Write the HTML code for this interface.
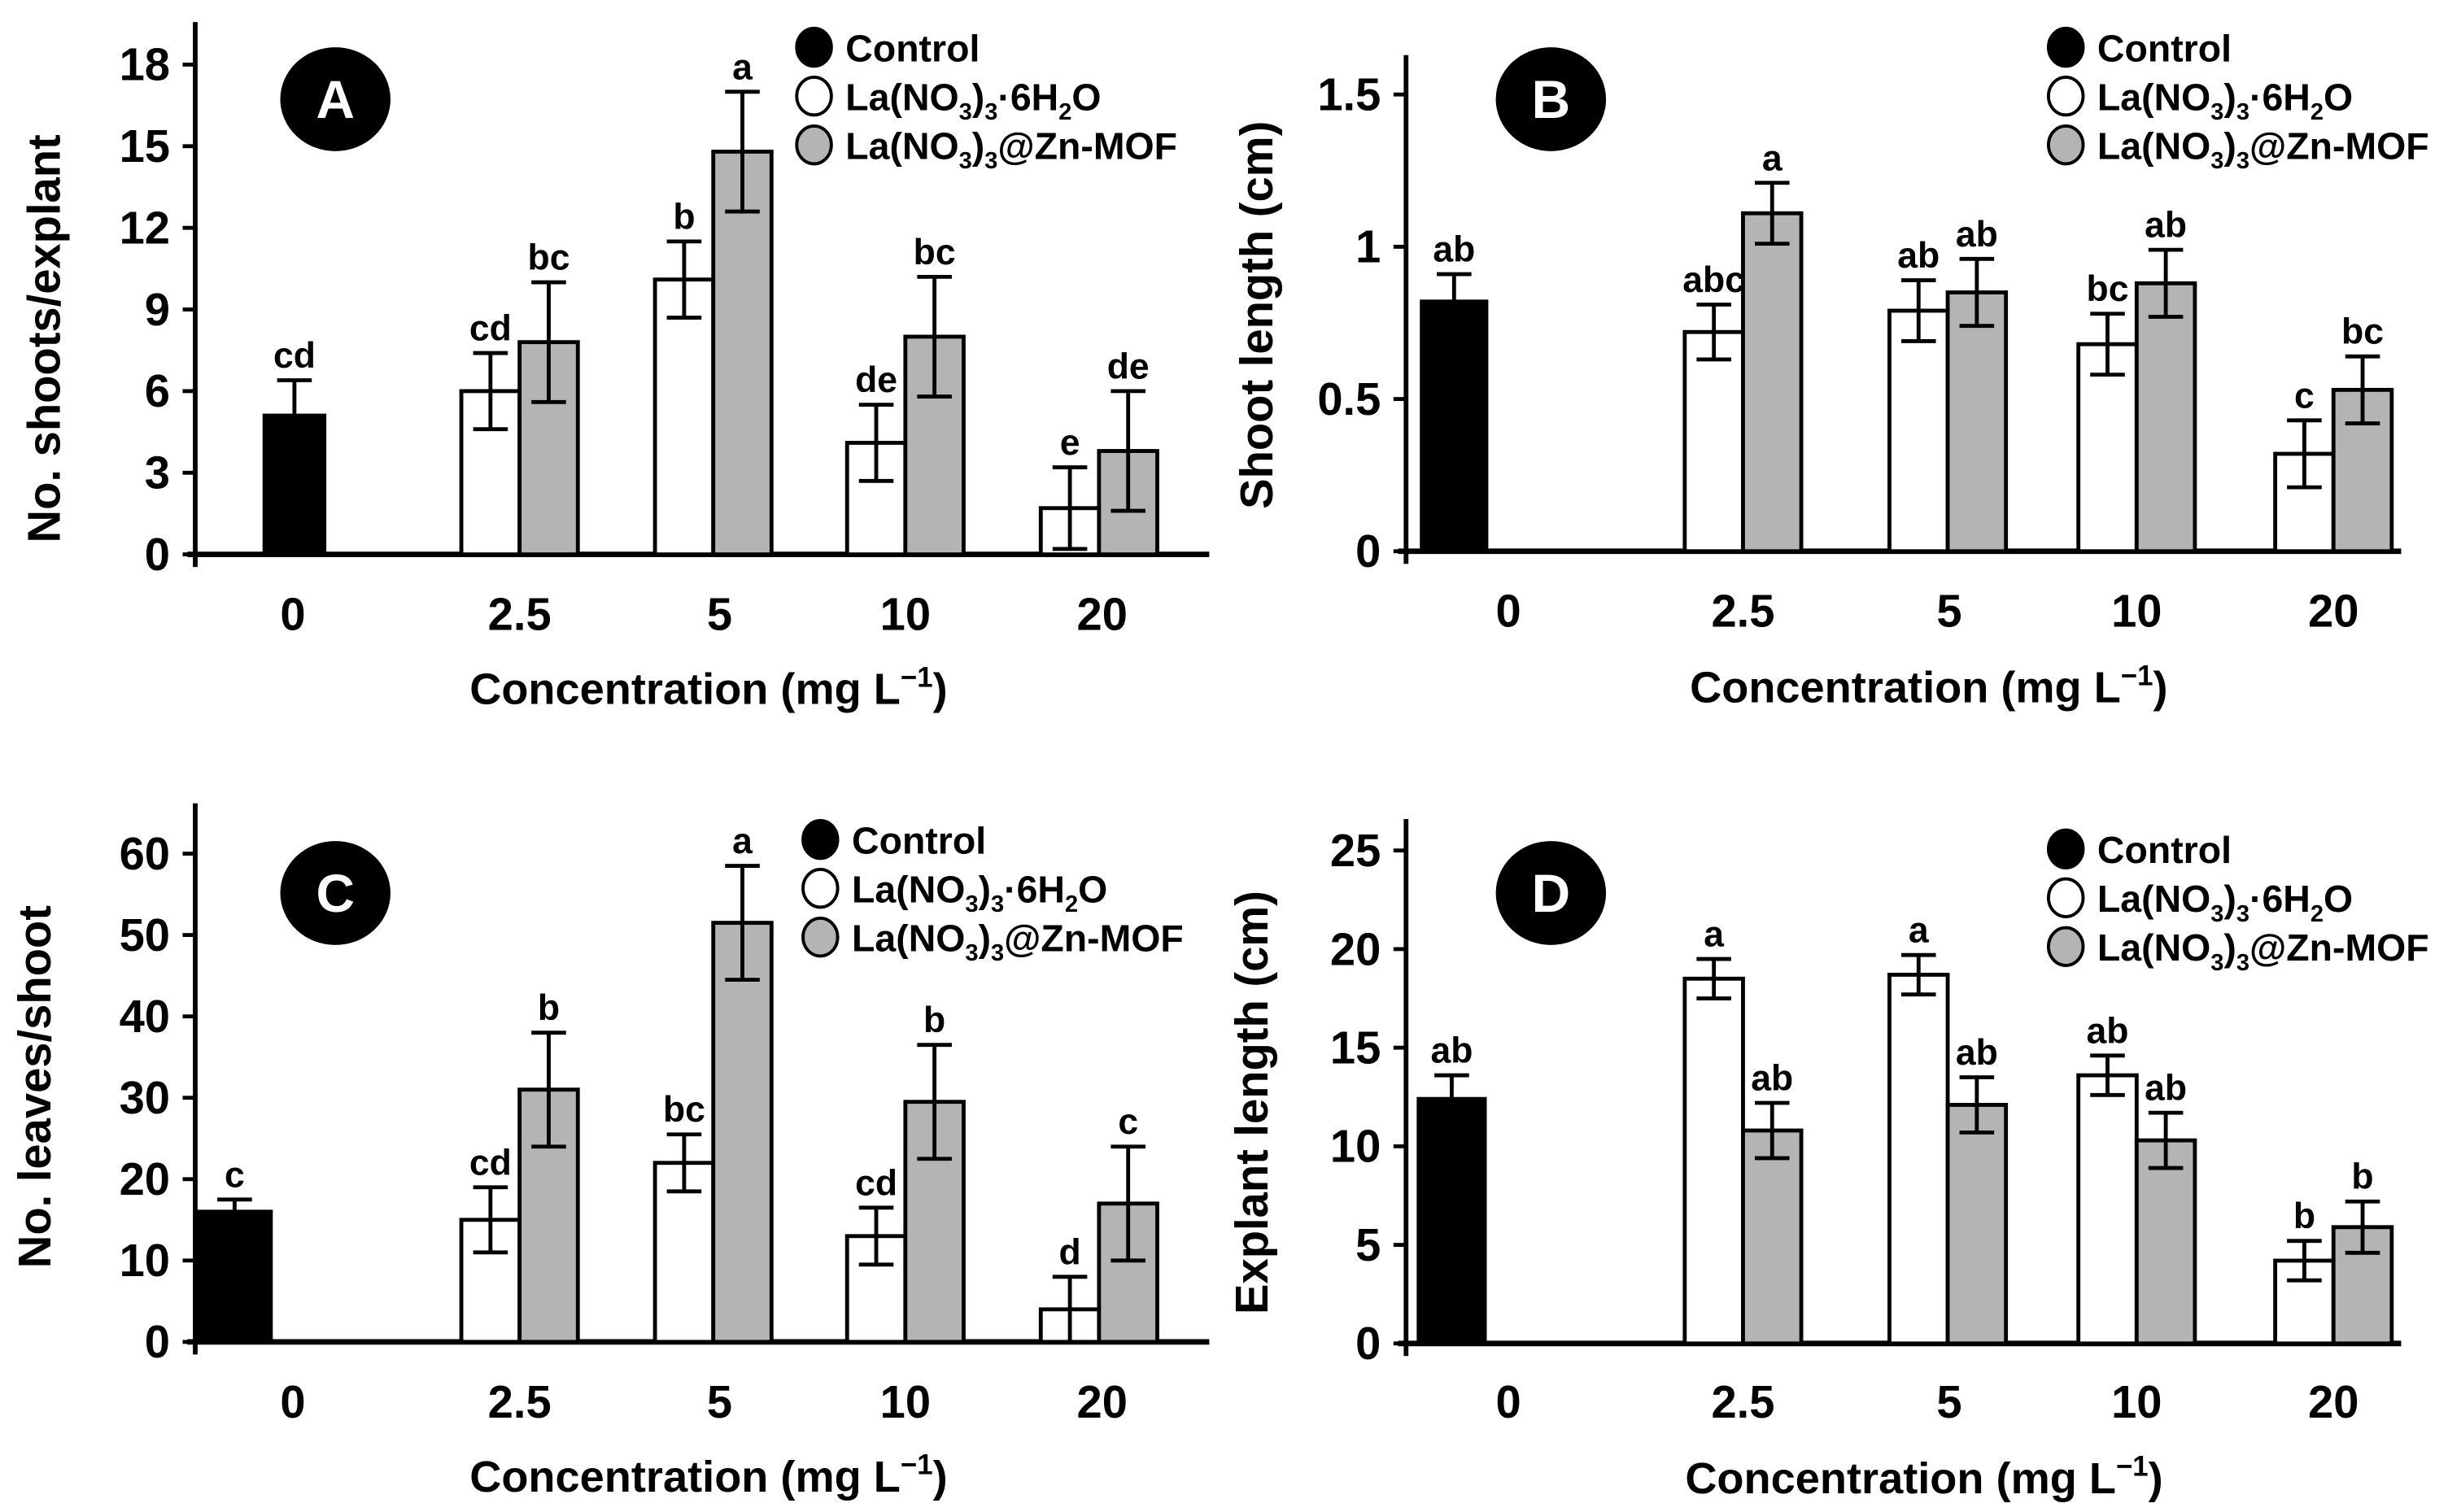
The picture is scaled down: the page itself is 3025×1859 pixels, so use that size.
<!DOCTYPE html>
<html><head><meta charset="utf-8"><style>
html,body{margin:0;padding:0;background:#fff;}
svg{display:block;}
text{font-family:"Liberation Sans Narrow","Liberation Sans",sans-serif;font-weight:bold;fill:#000;}
</style></head><body>
<svg id="fig" width="3025" height="1859" viewBox="0 0 1563 960" preserveAspectRatio="none" xmlns="http://www.w3.org/2000/svg"></svg>
<script>
// ---- data ----
const categories = ["0","2.5","5","10","20"];
const aControl = [5.1], aControlErr = [1.3];
const aLa = [6.0,10.1,4.1,1.7], aLaErr = [1.4,1.4,1.4,1.5];
const aMof = [7.8,14.8,8.0,3.8], aMofErr = [2.2,2.2,2.2,2.2];
const aLetters = ["cd","cd","bc","b","a","de","bc","e","de"];
const aTicks = [0,3,6,9,12,15,18];
const bControl = [0.82], bControlErr = [0.09];
const bLa = [0.72,0.79,0.68,0.32], bLaErr = [0.09,0.10,0.10,0.11];
const bMof = [1.11,0.85,0.88,0.53], bMofErr = [0.10,0.11,0.11,0.11];
const bLetters = ["ab","abc","a","ab","ab","bc","ab","c","bc"];
const bTicks = [0,0.5,1,1.5];
const bTickLabels = ["0","0.5","1","1.5"];
const cControl = [16], cControlErr = [1.5];
const cLa = [15,22,13,4], cLaErr = [4,3.5,3.5,4];
const cMof = [31,51.5,29.5,17], cMofErr = [7,7,7,7];
const cLetters = ["c","cd","b","bc","a","cd","b","d","c"];
const cTicks = [0,10,20,30,40,50,60];
const dControl = [12.4], dControlErr = [1.2];
const dLa = [18.5,18.7,13.6,4.2], dLaErr = [1.0,1.0,1.0,1.0];
const dMof = [10.8,12.1,10.3,5.9], dMofErr = [1.4,1.4,1.4,1.3];
const dLetters = ["ab","a","ab","a","ab","ab","ab","b","b"];
const dTicks = [0,5,10,15,20,25];

const NS="http://www.w3.org/2000/svg";
const svg=document.getElementById('fig');
function mk(tag,attrs,parent){const e=document.createElementNS(NS,tag);for(const k in attrs)e.setAttribute(k,attrs[k]);(parent||svg).appendChild(e);return e;}

function panel(p){
  const g=mk('g',{});
  
  
  const y=v=>p.y0-(v-0)*p.ppu;
  const ya=mk('line',{x1:p.ax,y1:p.top,x2:p.ax,y2:p.y0+8,stroke:'#000','stroke-width':3},g);
  
  
  const xa=mk('line',{x1:p.ax-5,y1:p.y0,x2:p.xEnd,y2:p.y0,stroke:'#000','stroke-width':3.5},g);
  
  
  p.ticks.forEach((t,i)=>{
    mk('line',{x1:p.ax-8,y1:y(t),x2:p.ax,y2:y(t),stroke:'#000','stroke-width':2.5},g);
    const tx=mk('text',{x:p.ax-16,y:y(t)+10,'text-anchor':'end','font-size':29},g);
    tx.textContent=p.tickLabels?p.tickLabels[i]:String(t);
    
    
  });
  const bw=37;
  function bar(xl,w,v,e,fill,letter,name){
    const r=mk('rect',{x:xl,y:y(v),width:w,height:p.y0-y(v),fill:fill,stroke:'#000','stroke-width':2.5},g);
    
    
    const cx=xl+w/2;
    const eb=mk('path',{d:`M${cx},${y(v+e)}V${y(v-e)}M${cx-11},${y(v+e)}H${cx+11}M${cx-11},${y(v-e)}H${cx+11}`,stroke:'#000','stroke-width':2.5,fill:'none'},g);
    
    
    const lt=mk('text',{x:cx,y:y(v+e)-8,'text-anchor':'middle','font-size':23},g);
    lt.textContent=letter;
    
    
  }
  bar(p.cL,p.cW,p.control[0],p.controlErr[0],'#000',p.letters[0],'bar-control');
  for(let i=0;i<4;i++){
    const c=p.centers[i+1];
    bar(c-bw,bw,p.la[i],p.laErr[i],'#fff',p.letters[1+2*i],'bar-la-'+categories[i+1]);
    bar(c,bw,p.mof[i],p.mofErr[i],'#b4b4b4',p.letters[2+2*i],'bar-mof-'+categories[i+1]);
  }
  categories.forEach((c,i)=>{
    const t=mk('text',{x:p.labX[i],y:p.catY,'text-anchor':'middle','font-size':29},g);
    t.textContent=c;
    
    
  });
  const xt=mk('text',{x:p.xtX,y:p.xtY,'text-anchor':'middle','font-size':28},g);
  xt.innerHTML='Concentration (mg L<tspan font-size="18" dy="-11">−1</tspan><tspan dy="11">)</tspan>';
  
  
  const yt=mk('text',{x:0,y:0,'text-anchor':'middle','font-size':29,'font-family':'Liberation Sans, sans-serif',transform:`translate(${p.ytX},${p.ytY}) rotate(-90)`},g);
  yt.textContent=p.ytitle;
  
  
  const pc=mk('ellipse',{cx:p.circ[0],cy:p.circ[1],rx:35,ry:33,fill:'#000'},g);
  
  
  const pl=mk('text',{x:p.circ[0],y:p.circ[1]+12,'text-anchor':'middle','font-size':34,'font-family':'Liberation Sans, sans-serif',style:'fill:#fff'},g);
  pl.textContent=p.id;
  
  
  const lg=[['#000','Control'],['#fff','La(NO<tspan font-size="15" dy="6">3</tspan><tspan dy="-6">)</tspan><tspan font-size="15" dy="6">3</tspan><tspan dy="-6">·6H</tspan><tspan font-size="15" dy="6">2</tspan><tspan dy="-6">O</tspan>'],['#b4b4b4','La(NO<tspan font-size="15" dy="6">3</tspan><tspan dy="-6">)</tspan><tspan font-size="15" dy="6">3</tspan><tspan dy="-6">@Zn-MOF</tspan>']];
  lg.forEach((l,i)=>{
    const yy=p.leg[1]+i*31;
    const m=mk('ellipse',{cx:p.leg[0],cy:yy,rx:11,ry:12,fill:l[0],stroke:'#000','stroke-width':2},g);
    
    
    const t=mk('text',{x:p.leg[0]+20,y:yy+9,'font-size':24},g);
    t.innerHTML=l[1];
    
    
  });
}

panel({id:'A',ax:124,y0:352,top:14,ppu:(352-41)/18,ticks:aTicks,xEnd:768,
  control:aControl,controlErr:aControlErr,la:aLa,laErr:aLaErr,mof:aMof,mofErr:aMofErr,letters:aLetters,
  cL:168,cW:38,centers:[187,330,453,575,698],labX:[186,330,457,575,700],catY:400,xtX:450,xtY:447,
  ytX:38,ytY:215,ytitle:'No. shoots/explant',circ:[213,63],leg:[517,30]});
panel({id:'B',ax:893,y0:350,top:35,ppu:(350-60)/1.5,ticks:bTicks,tickLabels:bTickLabels,xEnd:1525,
  control:bControl,controlErr:bControlErr,la:bLa,laErr:bLaErr,mof:bMof,mofErr:bMofErr,letters:bLetters,
  cL:903,cW:41,centers:[923,1107,1237,1357,1482],labX:[958,1107,1238,1357,1482],catY:398,xtX:1225,xtY:446,
  ytX:808,ytY:200,ytitle:'Shoot length (cm)',circ:[985,63],leg:[1312,30]});
panel({id:'C',ax:124,y0:852,top:510,ppu:(852-542)/60,ticks:cTicks,xEnd:768,
  control:cControl,controlErr:cControlErr,la:cLa,laErr:cLaErr,mof:cMof,mofErr:cMofErr,letters:cLetters,
  cL:126,cW:46,centers:[149,330,453,575,698],labX:[186,330,457,575,700],catY:900,xtX:450,xtY:947,
  ytX:32,ytY:690,ytitle:'No. leaves/shoot',circ:[213,567],leg:[521,533]});
panel({id:'D',ax:893,y0:853,top:520,ppu:(853-540)/25,ticks:dTicks,xEnd:1525,
  control:dControl,controlErr:dControlErr,la:dLa,laErr:dLaErr,mof:dMof,mofErr:dMofErr,letters:dLetters,
  cL:901,cW:42,centers:[922,1107,1237,1357,1482],labX:[958,1107,1238,1357,1482],catY:900,xtX:1222,xtY:948,
  ytX:805,ytY:700,ytitle:'Explant length (cm)',circ:[985,567],leg:[1312,539]});
</script>
</body></html>
